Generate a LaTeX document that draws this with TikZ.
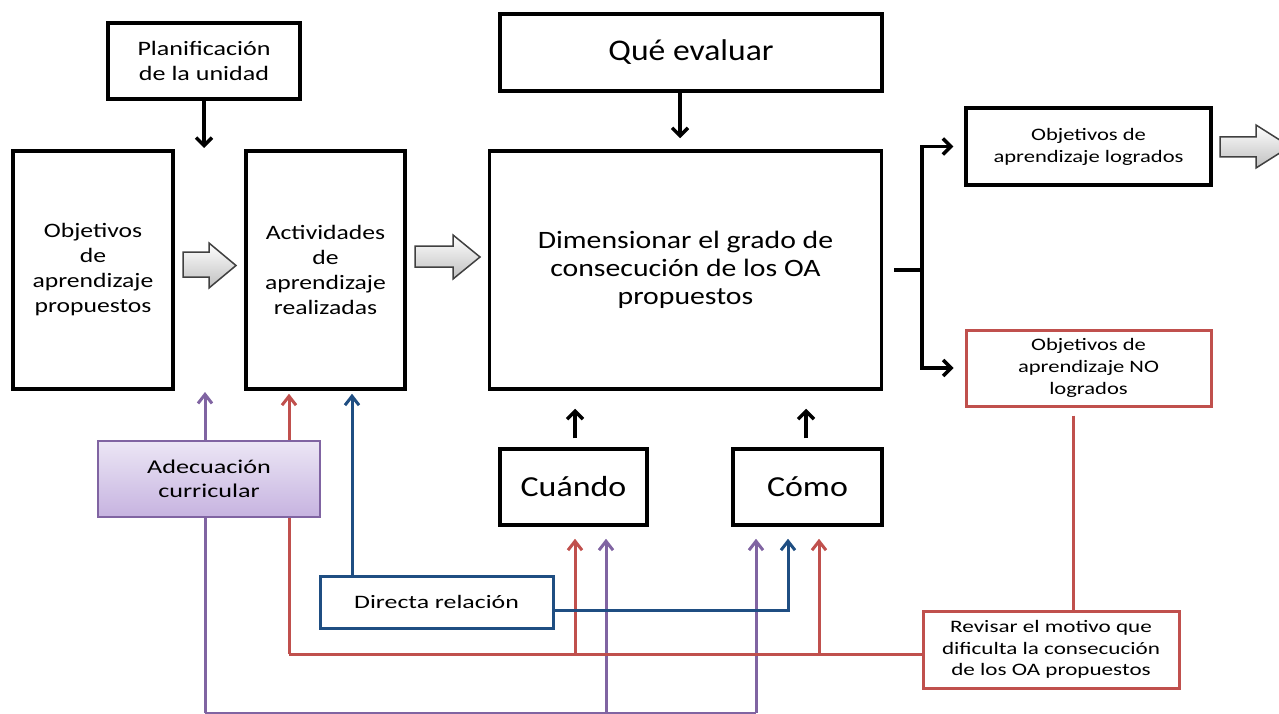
\documentclass[tikz,border=0pt]{standalone}
\usepackage{fontspec}
\setmainfont{Carlito}
\newfontfamily\fplan[FakeStretch=1.27]{Carlito}
\newfontfamily\fbigbox[FakeStretch=1.25]{Carlito}
\newfontfamily\fque[FakeStretch=1.12]{Carlito}
\newfontfamily\fdim[FakeStretch=1.19]{Carlito}
\newfontfamily\flog[FakeStretch=1.29]{Carlito}
\newfontfamily\frev[FakeStretch=1.32]{Carlito}
\newfontfamily\fdir[FakeStretch=1.36]{Carlito}
\newfontfamily\fadec[FakeStretch=1.34]{Carlito}
\newfontfamily\fcua[FakeStretch=1.17]{Carlito}
\usetikzlibrary{arrows.meta,calc}
\pgfdeclarelayer{bg}
\pgfsetlayers{bg,main}
\definecolor{cred}{HTML}{C0504D}
\definecolor{cpurple}{HTML}{8064A2}
\definecolor{cblue}{HTML}{1F4E82}
\definecolor{ptop}{HTML}{ECE6F5}
\definecolor{pbot}{HTML}{C6B3E0}
\tikzset{
  bbox/.style={draw=black,line width=3.5pt,fill=white,align=center,inner sep=0pt},
  redbox/.style={draw=cred,line width=3pt,fill=white,align=center,inner sep=0pt},
  bluebox/.style={draw=cblue,line width=3pt,fill=white,align=center,inner sep=0pt},
  purplebox/.style={draw=cpurple,line width=2pt,top color=ptop,bottom color=pbot,align=center,inner sep=0pt},
  blk/.style={line width=3.5pt,-{Straight Barb[length=8pt,width=16pt,line width=3.5pt]}},
  blkplain/.style={line width=3.5pt},
  redc/.style={draw=cred,line width=3pt,-{Straight Barb[length=9pt,width=14pt,line width=3pt]}},
  redplain/.style={draw=cred,line width=3pt},
  bluec/.style={draw=cblue,line width=3pt,-{Straight Barb[length=9pt,width=14pt,line width=3pt]}},
  purc/.style={draw=cpurple,line width=3pt,-{Straight Barb[length=9pt,width=14pt,line width=3pt]}},
  purplain/.style={draw=cpurple,line width=3pt},
  blockarrow/.style={draw=black!75,line width=1.5pt,top color=white,bottom color=black!25},
}
\begin{document}
\begin{tikzpicture}[x=1pt,y=-1pt]
\useasboundingbox (0,0) rectangle (1279,714);
% main boxes
\node[bbox,minimum width=192,minimum height=76,font=\fplan\fontsize{20.5}{25}\selectfont] (plan) at (204,61) {Planificación\\de la unidad};
\node[bbox,minimum width=160,minimum height=238,font=\fbigbox\fontsize{20.5}{25}\selectfont] (obj) at (93,270) {Objetivos\\de\\aprendizaje\\propuestos};
\node[bbox,minimum width=159,minimum height=238,font=\fbigbox\fontsize{20.5}{25}\selectfont] (act) at (325.5,270) {Actividades\\de\\aprendizaje\\realizadas};
\node[bbox,minimum width=382,minimum height=77,font=\fque\fontsize{30}{34}\selectfont] (que) at (691,52.5) {Qué evaluar};
\node[bbox,minimum width=392,minimum height=238,font=\fdim\fontsize{25}{28}\selectfont] (dim) at (685.5,270) {Dimensionar el grado de\\consecución de los OA\\propuestos};
\node[bbox,minimum width=245,minimum height=77,font=\flog\fontsize{17.5}{22}\selectfont] (log) at (1088.5,146.5) {Objetivos de\\aprendizaje logrados};
\node[redbox,minimum width=245,minimum height=76,font=\flog\fontsize{17.5}{22}\selectfont] (nolog) at (1088.5,368) {Objetivos de\\aprendizaje NO\\logrados};
\node[bbox,minimum width=147,minimum height=76,font=\fcua\fontsize{29}{34}\selectfont] (cuando) at (573.5,487) {Cuándo};
\node[bbox,minimum width=149,minimum height=76,font=\fcua\fontsize{29}{34}\selectfont] (como) at (807.5,487) {Cómo};
\node[redbox,minimum width=256,minimum height=77,font=\frev\fontsize{17.5}{21.5}\selectfont] (rev) at (1051,649.5) {Revisar el motivo que\\dificulta la consecución\\de los OA propuestos};
\node[bluebox,minimum width=233,minimum height=52,font=\fdir\fontsize{19}{23}\selectfont] (dir) at (436.5,602) {Directa relación};
% block arrows
\path[blockarrow] (183,252) -- (209,252) -- (209,243) -- (236,265.5) -- (209,288) -- (209,277) -- (183,277) -- cycle;
\path[blockarrow] (415,246) -- (453,246) -- (453,235) -- (480,257) -- (453,279) -- (453,267) -- (415,267) -- cycle;
\path[blockarrow] (1220,137) -- (1256,137) -- (1256,125) -- (1290,146.5) -- (1256,168) -- (1256,157) -- (1220,157) -- cycle;
% coordinates
\coordinate (gap) at (204,148);
\coordinate (branch) at (922,270);
% black connectors
\draw[blk] (plan.south) -- (gap);
\draw[blk,shorten >=11pt] (que.south -| 680,0) -- (dim.north -| 680,0);
\draw[blkplain] ($(dim.east)+(11,0)$) -- (branch);
\draw[blk,shorten >=11pt] (branch) |- (log.west);
\draw[blk,shorten >=11pt] (branch) |- (nolog.west);
\draw[blk,shorten <=9pt,shorten >=18pt] (cuando.north -| 575,0) -- (dim.south -| 575,0);
\draw[blk,shorten <=9pt,shorten >=18pt] (como.north -| 806,0) -- (dim.south -| 806,0);
% colored connectors
\begin{pgfonlayer}{bg}
\coordinate (pbl) at (205,713);
\coordinate (pbr) at (756,713);
\draw[purplain] (pbl) -- (pbr);
\draw[purc] (pbl) -- (205,392);
\draw[purc,shorten >=12pt] (606,713) -- (cuando.south -| 606,0);
\draw[purc,shorten >=12pt] (pbr) -- (como.south -| 756,0);
\coordinate (rl) at (289,654);
\draw[redplain] (rev.west |- rl) -- (rl);
\draw[redc,shorten >=3pt] (rl) -- (act.south -| rl);
\draw[redc,shorten >=12pt] (575,654) -- (cuando.south -| 575,0);
\draw[redc,shorten >=12pt] (819,654) -- (como.south -| 819,0);
\draw[redplain,shorten <=8pt] (nolog.south -| 1073,0) -- (rev.north -| 1073,0);
\draw[bluec,shorten >=3pt] (dir.north -| 352,0) -- (act.south -| 352,0);
\draw[bluec,shorten >=12pt] (dir.east |- 0,610) -- (788,610) -- (como.south -| 788,0);
\end{pgfonlayer}
\node[purplebox,minimum width=222,minimum height=76,font=\fadec\fontsize{19.5}{24}\selectfont] (adec) at (209,479) {Adecuación\\curricular};
\end{tikzpicture}
\end{document}
